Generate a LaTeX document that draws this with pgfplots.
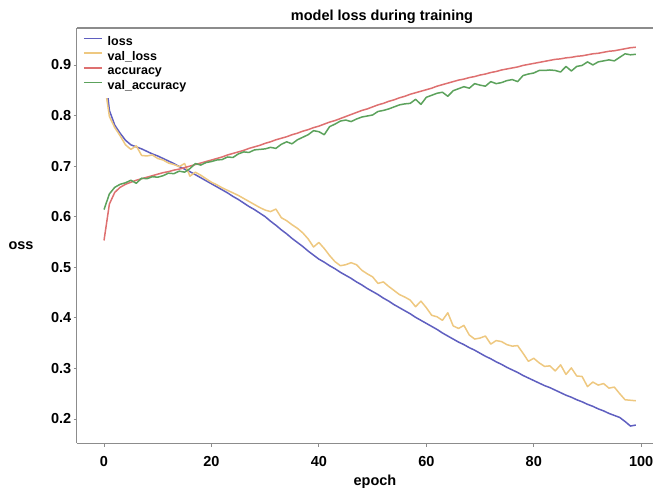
\documentclass[border=0pt]{standalone}
\usepackage{pgfplots}
\usepackage{pgfplotstable}
\pgfplotsset{compat=1.18}
\usepackage{fontspec}
\setmainfont{Liberation Sans}
\newcommand\tfont{\fontsize{14.5}{17}\selectfont\bfseries}
\newcommand\lfont{\fontsize{12.5}{14}\selectfont\bfseries}
\definecolor{cLoss}{RGB}{95,95,192}
\definecolor{cVLoss}{RGB}{238,200,128}
\definecolor{cAcc}{RGB}{222,112,112}
\definecolor{cVAcc}{RGB}{92,162,92}
\definecolor{cAxis}{RGB}{140,140,140}

\pgfplotstableread{
epoch loss vloss acc vacc
0 0.905 0.870 0.553 0.614
1 0.810 0.798 0.625 0.645
2 0.781 0.776 0.648 0.658
3 0.765 0.760 0.658 0.664
4 0.751 0.742 0.664 0.667
5 0.742 0.733 0.668 0.672
6 0.738 0.740 0.672 0.666
7 0.734 0.721 0.675 0.676
8 0.729 0.720 0.678 0.675
9 0.724 0.722 0.681 0.679
10 0.720 0.715 0.684 0.678
11 0.715 0.712 0.687 0.681
12 0.710 0.706 0.689 0.686
13 0.705 0.703 0.692 0.685
14 0.699 0.699 0.694 0.690
15 0.694 0.705 0.697 0.688
16 0.689 0.680 0.700 0.695
17 0.683 0.688 0.703 0.705
18 0.677 0.682 0.706 0.702
19 0.671 0.675 0.709 0.707
20 0.665 0.668 0.712 0.709
21 0.659 0.663 0.715 0.712
22 0.653 0.657 0.718 0.713
23 0.647 0.652 0.722 0.718
24 0.640 0.647 0.725 0.717
25 0.634 0.642 0.728 0.724
26 0.627 0.636 0.731 0.728
27 0.620 0.630 0.735 0.727
28 0.614 0.624 0.738 0.732
29 0.607 0.618 0.741 0.733
30 0.600 0.613 0.745 0.734
31 0.591 0.610 0.748 0.737
32 0.583 0.615 0.752 0.735
33 0.574 0.598 0.755 0.743
34 0.566 0.592 0.758 0.748
35 0.557 0.584 0.762 0.744
36 0.549 0.577 0.765 0.752
37 0.541 0.568 0.769 0.757
38 0.532 0.556 0.772 0.762
39 0.524 0.540 0.776 0.770
40 0.516 0.549 0.779 0.768
41 0.510 0.537 0.783 0.762
42 0.503 0.523 0.787 0.778
43 0.497 0.511 0.790 0.783
44 0.490 0.503 0.794 0.789
45 0.484 0.505 0.798 0.791
46 0.478 0.509 0.802 0.788
47 0.471 0.505 0.806 0.793
48 0.465 0.494 0.810 0.797
49 0.458 0.487 0.813 0.799
50 0.452 0.481 0.817 0.801
51 0.446 0.468 0.821 0.808
52 0.439 0.471 0.824 0.810
53 0.433 0.462 0.828 0.813
54 0.426 0.454 0.831 0.817
55 0.420 0.446 0.835 0.821
56 0.414 0.441 0.838 0.823
57 0.408 0.435 0.842 0.824
58 0.401 0.422 0.845 0.832
59 0.395 0.433 0.848 0.822
60 0.389 0.420 0.851 0.836
61 0.383 0.405 0.854 0.840
62 0.377 0.402 0.858 0.844
63 0.370 0.395 0.861 0.846
64 0.364 0.410 0.864 0.838
65 0.358 0.384 0.867 0.849
66 0.352 0.379 0.870 0.853
67 0.347 0.385 0.872 0.857
68 0.341 0.366 0.875 0.854
69 0.336 0.358 0.877 0.863
70 0.330 0.360 0.880 0.860
71 0.324 0.364 0.882 0.858
72 0.319 0.348 0.885 0.867
73 0.313 0.355 0.887 0.863
74 0.308 0.353 0.890 0.865
75 0.302 0.347 0.892 0.869
76 0.297 0.344 0.894 0.871
77 0.292 0.345 0.896 0.867
78 0.286 0.330 0.899 0.879
79 0.281 0.314 0.901 0.882
80 0.276 0.320 0.903 0.884
81 0.271 0.311 0.905 0.889
82 0.266 0.304 0.907 0.889
83 0.262 0.305 0.909 0.890
84 0.257 0.295 0.911 0.889
85 0.252 0.307 0.912 0.886
86 0.247 0.288 0.914 0.897
87 0.243 0.301 0.915 0.888
88 0.238 0.285 0.917 0.897
89 0.234 0.284 0.918 0.899
90 0.229 0.264 0.920 0.906
91 0.225 0.273 0.922 0.900
92 0.220 0.267 0.923 0.906
93 0.216 0.270 0.925 0.908
94 0.211 0.261 0.927 0.910
95 0.207 0.263 0.928 0.908
96 0.203 0.250 0.930 0.915
97 0.195 0.238 0.932 0.922
98 0.186 0.237 0.934 0.920
99 0.188 0.236 0.935 0.921
}\datatable

\begin{document}
\begin{tikzpicture}
\begin{axis}[
  at={(0,0)}, anchor=south west,
  scale only axis, width=576pt, height=415pt,
  xmin=-5.03, xmax=102.2, ymin=0.1525, ymax=0.973,
  axis x line*=bottom, axis y line*=left,
  axis line style={draw=cAxis, line width=1pt},
  tick align=outside, major tick length=3.5pt,
  tick style={draw=cAxis, line width=0.8pt},
  xtick={0,20,40,60,80,100},
  xticklabels={0,20,40,60,80,100},
  ytick={0.2,0.3,0.4,0.5,0.6,0.7,0.8,0.9},
  yticklabels={0.2,0.3,0.4,0.5,0.6,0.7,0.8,0.9},
  /pgf/number format/assume math mode=true,
  ticklabel style={font=\tfont, text=black},
  xticklabel style={anchor=north, inner sep=0pt, yshift=-10pt},
  yticklabel style={anchor=east, inner sep=0pt, xshift=-2pt},
  legend style={at={(0,1)}, anchor=north west, xshift=4pt, yshift=-2pt,
    draw=none, fill=white, inner xsep=2pt, inner ysep=4.6pt, font=\lfont,
    row sep=0pt,
    nodes={inner sep=1pt, text height=9.5pt, text depth=3.2pt}},
  legend cell align=left,
  legend image code/.code={\draw[#1, line width=1.5pt] (0pt,3.8pt) -- (18pt,3.8pt); \path (22pt,3.8pt);},
  every axis plot/.append style={line width=1.5pt, line join=round},
]
\addplot[cLoss, no markers] table[x=epoch, y=loss] {\datatable};
\addlegendentry{loss}
\addplot[cVLoss, no markers] table[x=epoch, y=vloss] {\datatable};
\addlegendentry{val\_loss}
\addplot[cAcc, no markers] table[x=epoch, y=acc] {\datatable};
\addlegendentry{accuracy}
\addplot[cVAcc, no markers] table[x=epoch, y=vacc] {\datatable};
\addlegendentry{val\_accuracy}
\end{axis}
\draw[cAxis, line width=1.2pt] (0,415pt) -- (576pt,415pt);
\node[font=\tfont, anchor=base] at (305pt,422pt) {model loss during training};
\node[font=\tfont, anchor=base] at (298pt,-42pt) {epoch};
\node[font=\tfont, anchor=base] at (-56pt,193.5pt) {oss};
\pgfresetboundingbox
\useasboundingbox (-77pt,-47pt) rectangle (576pt,443pt);
\end{tikzpicture}
\end{document}
